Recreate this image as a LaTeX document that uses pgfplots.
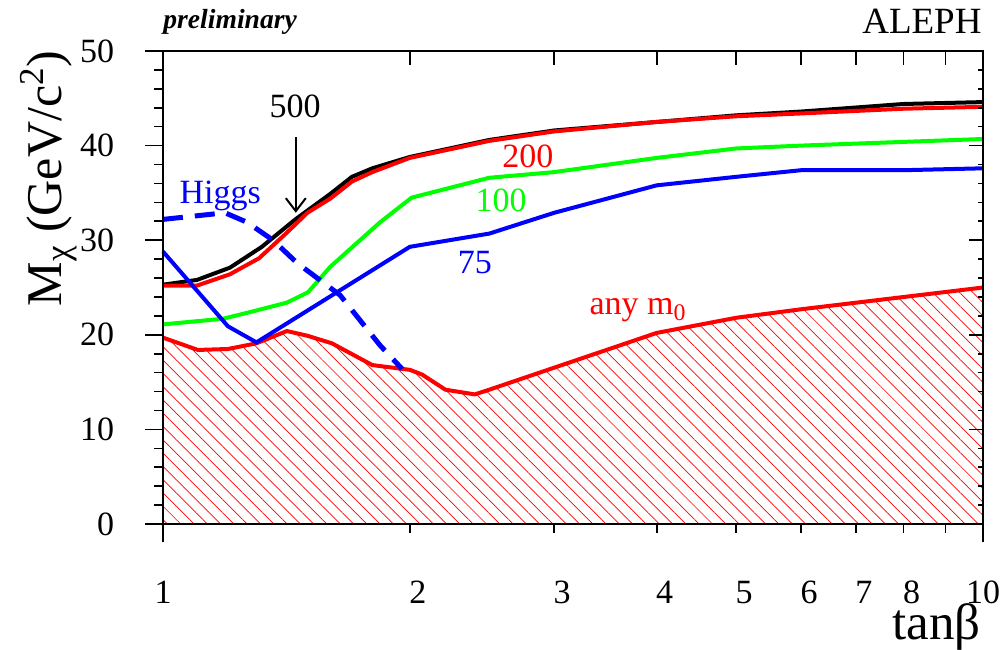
\documentclass[border=0pt]{standalone}
\usepackage{fontspec}
\setmainfont{Liberation Serif}
\usepackage{pgfplots}
\pgfplotsset{compat=1.18}
\usetikzlibrary{patterns.meta, arrows.meta}

\pgfplotstableread{
x y
1.0 25.3
1.10 25.8
1.207 27.1
1.32 29.3
1.45 32.2
1.60 34.9
1.70 36.7
1.80 37.6
2.0 38.8
2.5 40.6
3.0 41.6
4.0 42.5
5.0 43.2
6.0 43.6
8.0 44.4
10 44.6
}\mfive

\pgfplotstableread{
x y
1.0 25.2
1.10 25.2
1.207 26.4
1.31 28.1
1.416 30.8
1.50 32.9
1.60 34.4
1.70 36.2
1.80 37.2
2.0 38.7
2.5 40.5
3.0 41.5
4.0 42.5
5.0 43.1
6.0 43.4
8.0 43.9
10 44.1
}\mtwo

\pgfplotstableread{
x y
1.0 21.1
1.184 21.7
1.277 22.4
1.416 23.4
1.503 24.5
1.60 27.2
1.84 31.9
2.01 34.5
2.5 36.6
3.0 37.2
4.0 38.7
5.0 39.7
6.0 40.0
10 40.7
}\mone

\pgfplotstableread{
x y
1.0 28.8
1.20 20.9
1.30 19.2
2.0 29.3
2.5 30.7
3.0 32.9
4.0 35.8
5.0 36.7
6.0 37.4
8.0 37.4
10 37.6
}\mseventyfive

\pgfplotstableread{
x y
1.0 32.2
1.19 32.9
1.266 31.9
1.362 30.0
1.457 27.6
1.644 24.2
1.839 18.9
1.957 16.4
}\higgs

\pgfplotstableread{
x y
1.0 19.7
1.103 18.4
1.20 18.5
1.30 19.1
1.416 20.4
1.50 19.9
1.607 19.1
1.80 16.8
2.0 16.3
2.07 15.8
2.21 14.2
2.40 13.7
2.50 14.2
4.0 20.2
5.0 21.8
6.0 22.7
10 25.0
}\anymzero

\newcommand{\fs}{\fontsize{17}{20}\selectfont}

\begin{document}
\begin{tikzpicture}
\begin{axis}[
  scale only axis, width=410pt, height=236.5pt,
  xmode=log, xmin=1, xmax=10, ymin=0, ymax=50,
  axis line style={line width=1.3pt},
  tick style={line width=0.8pt, black},
  clip=false,
  tick align=outside,
  xtick pos=left, ytick pos=left,
  major tick length=9pt, minor tick length=4.5pt,
  xtick={1,10}, xticklabels={1,10},
  minor xtick={2,3,4,5,6,7,8,9},
  extra x ticks={2,3,4,5,6,7,8},
  extra x tick labels={2,3,4,5,6,7,8},
  extra x tick style={major tick length=0pt, xticklabel style={xshift=4pt, yshift=-9pt}},
  ytick={0,10,20,30,40,50},
  minor y tick num=4,
  tick label style={font=\fs, inner sep=0pt},
  /pgf/number format/assume math mode=true,
  xticklabel shift=19.2pt,
  yticklabel shift=15.2pt,
]
\coordinate (O) at (rel axis cs:0,0);
\addplot[draw=none, pattern={Lines[angle=-45,distance=4.7pt,line width=0.35pt]}, pattern color=red] table {\anymzero} \closedcycle;
\addplot[red, line width=2pt] table {\anymzero};
\addplot[black, line width=2pt] table {\mfive};
\addplot[red, line width=2pt] table {\mtwo};
\addplot[green, line width=2pt] table {\mone};
\addplot[blue, line width=2pt] table {\mseventyfive};
\addplot[blue, line width=2.5pt, dash pattern=on 10pt off 6pt] table {\higgs};

\node[anchor=base, font=\fs] at (axis cs:1.449,43.0) {500};
\draw[-{Straight Barb[length=6.5pt,width=10pt]}, line width=1pt] (axis cs:1.452,40.9) -- (axis cs:1.452,32.9);
\node[anchor=base, blue, font=\fs] at (axis cs:1.174,33.9) {Higgs};
\node[anchor=base, red, font=\fs] at (axis cs:2.787,37.7) {200};
\node[anchor=base, green, font=\fs] at (axis cs:2.584,33.0) {100};
\node[anchor=base, blue, font=\fs] at (axis cs:2.40,26.5) {75};
\node[anchor=base west, red, inner sep=0pt, font=\fs] at (axis cs:3.31,22.1) {any m\textsubscript{0}};
\node[anchor=base west, inner sep=0pt, font=\fontsize{13.8}{15}\selectfont\bfseries\itshape] at (axis cs:1,52.4) {preliminary};
\node[anchor=base east, inner sep=0pt, font=\fontsize{18.5}{20}\selectfont] at (axis cs:9.97,51.9) {ALEPH};
\node[anchor=base east, inner sep=0pt, font=\fontsize{25.5}{30}\selectfont] at (axis cs:9.94,-12.2) {tanβ};
\node[rotate=90, anchor=base east, inner sep=0pt, font=\fontsize{25}{30}\selectfont] at (axis cs:0.753,50.1) {M\textsubscript{χ} (GeV/c\textsuperscript{2})};
\end{axis}
\begin{axis}[
  scale only axis, width=410pt, height=236.5pt,
  xmode=log, xmin=1, xmax=10, ymin=0, ymax=50,
  axis line style={line width=1.3pt},
  tick style={line width=0.8pt, black},
  tick align=inside,
  xtick pos=right, ytick pos=right,
  xtick={2,3,4,5,6,7,8,9}, xticklabels={},
  minor xtick={},
  ytick={0,10,20,30,40,50}, yticklabels={},
  minor y tick num=4,
  major tick length=7pt, minor tick length=2.5pt,
]
\end{axis}
\pgfresetboundingbox
\path ([shift={(-81.5pt,-62.5pt)}]O) rectangle ([shift={(420.5pt,262pt)}]O);
\end{tikzpicture}
\end{document}
